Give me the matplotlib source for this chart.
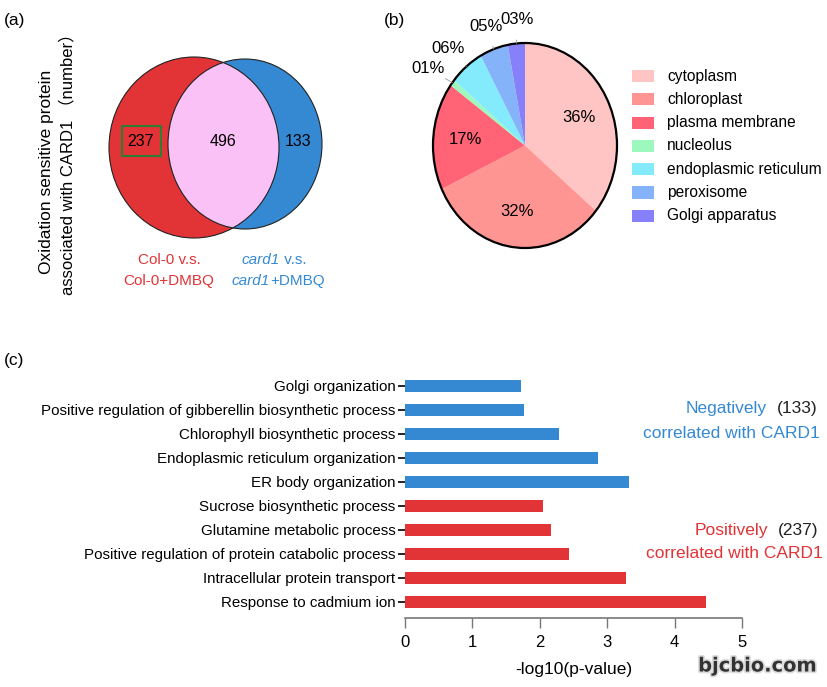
import matplotlib.pyplot as plt
from matplotlib.patches import Ellipse, Rectangle
import matplotlib.patheffects as pe
import numpy as np

plt.rcParams['font.family'] = ['Liberation Sans', 'Noto Sans CJK SC', 'DejaVu Sans']

# (a) venn counts
venn_left = 237
venn_mid = 496
venn_right = 133

# (b) subcellular location
pie_labels = ['cytoplasm', 'chloroplast', 'plasma membrane', 'nucleolus',
              'endoplasmic reticulum', 'peroxisome', 'Golgi apparatus']
pie_pct = [36, 32, 17, 1, 6, 5, 3]
pie_colors = ['#FFC4C4', '#FF9593', '#FF6375', '#9DF8BD', '#84EBFC', '#85B3FA', '#8680FA']

# (c) GO terms, bottom to top
go_terms = ['Response to cadmium ion', 'Intracellular protein transport',
            'Positive regulation of protein catabolic process', 'Glutamine metabolic process',
            'Sucrose biosynthetic process', 'ER body organization',
            'Endoplasmic reticulum organization', 'Chlorophyll biosynthetic process',
            'Positive regulation of gibberellin biosynthetic process', 'Golgi organization']
go_values = [4.46, 3.28, 2.44, 2.17, 2.05, 3.33, 2.87, 2.28, 1.77, 1.72]
go_group = ['pos'] * 5 + ['neg'] * 5

RED = '#E23336'
BLUE = '#3589D3'
W, H = 828, 687

fig = plt.figure(figsize=(8.28, 6.87), dpi=100)

def fx(px):
    return px / W

def fy(py):
    return 1 - py / H

# ---------- (a) venn ----------
axv = fig.add_axes([0, fy(300), fx(380), 300 / H])
axv.set_xlim(0, 380)
axv.set_ylim(300, 0)
axv.axis('off')
left = Ellipse((194, 147.5), 170, 181, facecolor=RED, edgecolor='none')
right = Ellipse((245, 144), 154, 170, facecolor=BLUE, edgecolor='none')
axv.add_patch(left)
axv.add_patch(right)
# intersection in pink
mid = Ellipse((245, 144), 154, 170, facecolor='#F9C1F5', edgecolor='none')
mid.set_clip_path(left)
axv.add_patch(mid)
axv.add_patch(Ellipse((194, 147.5), 170, 181, facecolor='none', edgecolor='#222222', lw=0.8))
axv.add_patch(Ellipse((245, 144), 154, 170, facecolor='none', edgecolor='#222222', lw=0.8))
axv.text(141, 141, str(venn_left), ha='center', va='center', fontsize=11.5)
axv.add_patch(Rectangle((122, 126), 39, 30, facecolor='none', edgecolor='#2E7D32', lw=1.5))
axv.text(223, 141, str(venn_mid), ha='center', va='center', fontsize=11.5)
axv.text(298, 141, str(venn_right), ha='center', va='center', fontsize=11.5)
axv.text(169, 260, 'Col-0 v.s.', ha='center', va='center', fontsize=11, color=RED)
axv.text(169, 281, 'Col-0+DMBQ', ha='center', va='center', fontsize=11, color=RED)
t1 = axv.text(242, 260, 'card1', ha='left', va='center', fontsize=11, color=BLUE, style='italic')
axv.annotate(' v.s.', xy=(1, 0.5), xycoords=t1, ha='left', va='center', fontsize=11, color=BLUE)
t2 = axv.text(232, 281, 'card1', ha='left', va='center', fontsize=11, color=BLUE, style='italic')
axv.annotate('+DMBQ', xy=(1, 0.5), xycoords=t2, ha='left', va='center', fontsize=11, color=BLUE)
axv.text(47, 172, 'Oxidation sensitive protein', rotation=90, ha='center', va='center', fontsize=12.5)
axv.text(67, 160, 'associated with CARD1 （number）', rotation=90, ha='center', va='center', fontsize=12)
fig.text(fx(4), fy(20), '(a)', fontsize=12.5, va='center')

# ---------- (b) pie ----------
axp = fig.add_axes([fx(433), fy(248), fx(184), 205 / H])
wedges, _ = axp.pie(pie_pct, colors=pie_colors, startangle=90, counterclock=False,
                    wedgeprops=dict(edgecolor='none'))
axp.set_aspect('auto')
axp.set_xlim(-1, 1)
axp.set_ylim(-1, 1)
axp.add_patch(Ellipse((0, 0), 2, 2, facecolor='none', edgecolor='black', lw=1.6, clip_on=False))
for w, p in zip(wedges, pie_pct):
    ang = np.deg2rad((w.theta1 + w.theta2) / 2)
    c, s = np.cos(ang), np.sin(ang)
    if p >= 10:
        axp.text(0.65 * c, 0.65 * s, f'{p:02d}%', ha='center', va='center', fontsize=12)
    else:
        axp.annotate(f'{p:02d}%', xy=(c, s), xytext=(1.38 * c + 0.04, 1.23 * s),
                     ha='center', va='center', fontsize=12, annotation_clip=False,
                     arrowprops=dict(arrowstyle='-', color='#999999', lw=0.6,
                                     shrinkA=7, shrinkB=0))
for i, (lab, col) in enumerate(zip(pie_labels, pie_colors)):
    yy = 76 + i * 23.3
    fig.patches.append(Rectangle((fx(632), fy(yy + 6)), fx(22), 12 / H, facecolor=col,
                                 edgecolor='none', transform=fig.transFigure))
    fig.text(fx(667), fy(yy), lab, fontsize=11.2, va='center')
fig.text(fx(384), fy(20), '(b)', fontsize=12.5, va='center')

# ---------- (c) bars ----------
axb = fig.add_axes([fx(405), fy(618), fx(337), 244 / H])
ypos = np.arange(len(go_terms))
bar_cols = [RED if g == 'pos' else BLUE for g in go_group]
axb.barh(ypos, go_values, height=0.52, color=bar_cols)
axb.set_xlim(0, 5)
axb.set_ylim(-0.67, 9.5)
axb.set_yticks(ypos)
axb.set_yticklabels(go_terms, fontsize=10.9)
axb.set_xticks(range(6))
axb.tick_params(axis='y', length=5, width=1.2, pad=2)
axb.tick_params(axis='x', length=7, width=1, color='#777777', labelsize=12, pad=5)
for side in ['top', 'right', 'left']:
    axb.spines[side].set_visible(False)
axb.spines['bottom'].set_color('#777777')
axb.spines['bottom'].set_linewidth(1.2)
axb.set_xlabel('-log10(p-value)', fontsize=12.5, labelpad=9)

fig.text(fx(767), fy(409), 'Negatively', color=BLUE, fontsize=12.5, ha='right', va='center')
fig.text(fx(818), fy(409), '(133)', color='#222222', fontsize=12.5, ha='right', va='center')
fig.text(fx(820), fy(433), 'correlated with CARD1', color=BLUE, fontsize=12.5, ha='right', va='center')
fig.text(fx(768), fy(530), 'Positively', color=RED, fontsize=12.5, ha='right', va='center')
fig.text(fx(818), fy(530), '(237)', color='#222222', fontsize=12.5, ha='right', va='center')
fig.text(fx(823), fy(553), 'correlated with CARD1', color=RED, fontsize=12.5, ha='right', va='center')
fig.text(fx(4), fy(360), '(c)', fontsize=12.5, va='center')

wm = fig.text(fx(817), fy(666), 'bjcbio.com', color='#333333', fontsize=14, fontweight='bold',
              ha='right', va='center', family='DejaVu Sans')
wm.set_path_effects([pe.withStroke(linewidth=2.5, foreground='#dddddd')])

fig.savefig('out.png', dpi=100)
